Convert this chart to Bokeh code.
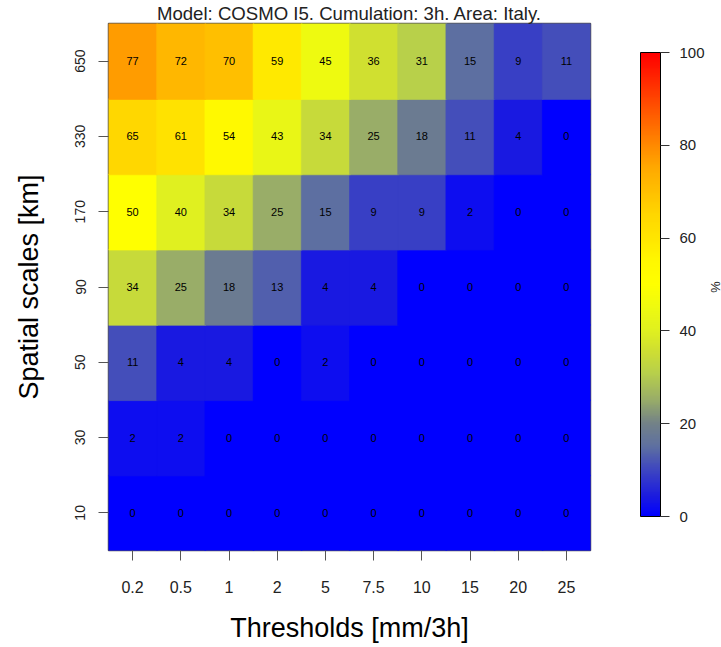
import numpy as np
from bokeh.plotting import figure
from bokeh.models import (ColumnDataSource, LinearColorMapper, ColorBar, FixedTicker,
                          Title, FactorRange)
from bokeh.transform import transform
from bokeh.embed import file_html
from bokeh.resources import INLINE

thresholds = ["0.2", "0.5", "1", "2", "5", "7.5", "10", "15", "20", "25"]
scales = ["10", "30", "50", "90", "170", "330", "650"]
v650 = [77, 72, 70, 59, 45, 36, 31, 15, 9, 11]
v330 = [65, 61, 54, 43, 34, 25, 18, 11, 4, 0]
v170 = [50, 40, 34, 25, 15, 9, 9, 2, 0, 0]
v90 = [34, 25, 18, 13, 4, 4, 0, 0, 0, 0]
v50 = [11, 4, 4, 0, 2, 0, 0, 0, 0, 0]
v30 = [2, 2, 0, 0, 0, 0, 0, 0, 0, 0]
v10 = [0, 0, 0, 0, 0, 0, 0, 0, 0, 0]
rows = {"10": v10, "30": v30, "50": v50, "90": v90, "170": v170, "330": v330, "650": v650}
cbar_ticks = [0, 20, 40, 60, 80, 100]

# palette (style)
stops = [(0, (0, 0, 255)), (4, (26, 26, 224)), (10, (62, 70, 192)), (15, (94, 112, 160)),
         (20, (115, 130, 135)), (25, (152, 172, 104)), (31, (184, 208, 74)),
         (36, (208, 224, 48)), (40, (224, 240, 32)), (45, (238, 250, 16)),
         (50, (255, 255, 0)), (55, (255, 248, 0)), (60, (255, 230, 0)), (65, (255, 215, 0)),
         (70, (255, 192, 0)), (75, (255, 170, 0)), (80, (255, 138, 0)), (90, (255, 70, 0)),
         (100, (255, 0, 0))]
sv = np.array([s[0] for s in stops], dtype=float)
grid = np.linspace(0, 100, 256)
chans = [np.interp(grid, sv, [s[1][k] for s in stops]) for k in range(3)]
palette = ["#%02x%02x%02x" % (int(round(r)), int(round(g)), int(round(b)))
           for r, g, b in zip(*chans)]

xs, ys, vs = [], [], []
for s in scales:
    for t, v in zip(thresholds, rows[s]):
        xs.append(t); ys.append(s); vs.append(v)
src = ColumnDataSource(dict(x=xs, y=ys, v=vs, lab=[str(v) for v in vs]))

mapper = LinearColorMapper(palette=palette, low=0, high=100)

FONT = "Liberation Sans"
p = figure(frame_width=482, frame_height=527,
           x_range=FactorRange(*thresholds), y_range=FactorRange(*scales),
           output_backend="svg", toolbar_location=None,
           min_border_left=108, min_border_right=0, min_border_top=16, min_border_bottom=96)
p.title = Title(text="Model: COSMO I5. Cumulation: 3h. Area: Italy.", align="center",
                text_font=FONT, text_font_size="18.6px", text_font_style="normal",
                text_color="#222222", standoff=0, offset=0)
p.rect(x="x", y="y", width=1, height=1, source=src, dilate=True,
       fill_color=transform("v", mapper), line_color=transform("v", mapper), line_width=0.6)
p.text(x="x", y="y", text="lab", source=src, text_align="center", text_baseline="middle",
       text_font_size="11px", text_color="black")

p.xgrid.visible = False
p.ygrid.visible = False
p.outline_line_color = "#555555"
p.outline_line_width = 1.5
for ax in (p.xaxis[0], p.yaxis[0]):
    ax.axis_line_color = None
    ax.major_tick_out = 10
    ax.major_tick_in = 0
    ax.major_tick_line_color = "#555555"
    ax.minor_tick_line_color = None
    ax.major_label_text_font = FONT
    ax.major_label_text_color = "#222222"
    ax.axis_label_text_font = FONT
    ax.axis_label_text_font_style = "normal"
    ax.axis_label_text_color = "black"
    ax.axis_label_text_font_size = "27px"
p.xaxis.axis_label = "Thresholds [mm/3h]"
p.yaxis.axis_label = "Spatial scales [km]"
p.xaxis.major_label_text_font_size = "16px"
p.yaxis.major_label_text_font_size = "14px"
p.yaxis.major_label_orientation = "vertical"
p.xaxis.major_label_standoff = 20
p.yaxis.major_label_standoff = 13
p.xaxis.axis_label_standoff = 17
p.yaxis.axis_label_standoff = 29

cb = ColorBar(color_mapper=mapper, ticker=FixedTicker(ticks=cbar_ticks), width=20, height=464,
              location=(50, 34), padding=0, margin=0, bar_line_color="black",
              major_tick_out=9, major_tick_in=0, major_tick_line_color="#333333",
              minor_tick_line_color=None, label_standoff=10,
              major_label_text_font=FONT, major_label_text_font_size="15px",
              major_label_text_color="#222222", background_fill_alpha=0,
              border_line_color=None)
p.add_layout(cb, "right")
p.add_layout(Title(text="%", align="center", text_font=FONT, text_font_size="13px",
                   text_font_style="normal", text_color="#222222", standoff=0, offset=0), "right")

open("out.html", "w").write(file_html(p, INLINE))
